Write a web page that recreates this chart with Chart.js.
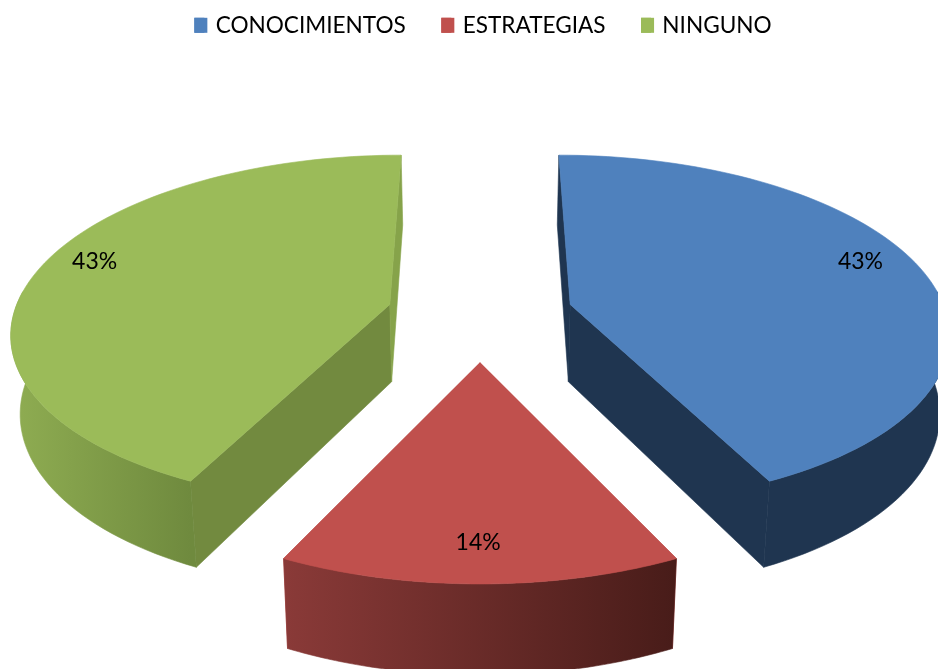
<!DOCTYPE html>
<html>
<head>
<meta charset="utf-8">
<title>Pie</title>
<script src="https://cdn.jsdelivr.net/npm/chart.js@4"></script>
<style>
    html, body { margin: 0; padding: 0; background: #fff; overflow: hidden; }
    canvas { display: block; }
</style>
</head>
<body>
<canvas id="pie" width="938" height="669"></canvas>
<script>
const categories = ["CONOCIMIENTOS", "ESTRATEGIAS", "NINGUNO"];
const percents = [42.9, 14.3, 42.9];

const topColors = ["#4f81bd", "#c0504d", "#9bbb59"];
// outer wall, left to right
const wallColors = [["#1f3550", "#1f3550"], ["#8a3a38", "#481c19"], ["#8fad52", "#6f8a3e"]];
// cut faces: start edge, end edge (the red ones stay hidden under its top)
const cutColors = [["#1f3550", "#1f3550"], ["#c0504d", "#c0504d"], ["#728a3f", "#86a34a"]];
// explode distance of each slice
const explode = [68, 74, 68];
// percent label place: turn around the slice (radians), share of the radius
const labelTurn = [-0.085, 0.005, 0.08];
const labelReach = [0.857, 0.838, 0.87];

// fake 3D view of the pie plane
const view = {
    planeRadius: 376, centerX: 480, vanishY: -886, focal: 1200, distance: 2600,
    depthBase: 62, depthSlope: 0.05, inset: 0.02
};

function projectTop(x, y) {
    const t = 1 / (1 - y / view.distance);
    return { x: view.centerX + x * t, y: view.vanishY + view.focal * t };
}

function dropDown(p) {
    return {
        x: view.centerX + (p.x - view.centerX) * (1 - view.inset),
        y: p.y + view.depthBase + view.depthSlope * p.y
    };
}

function fillPath(ctx, points, style) {
    ctx.beginPath();
    points.forEach((p, i) => i ? ctx.lineTo(p.x, p.y) : ctx.moveTo(p.x, p.y));
    ctx.closePath();
    ctx.fillStyle = style;
    ctx.fill();
    // closes the hairline seams between faces
    ctx.strokeStyle = style;
    ctx.lineWidth = 0.6;
    ctx.stroke();
}

const tiltedPie = {
    id: "tiltedPie",
    // the arcs keep their angles from the pie controller, only the painting is ours
    beforeDatasetsDraw(chart) {
        const ctx = chart.ctx;
        chart.getDatasetMeta(0).data.forEach((arc, i) => {
            const scale = view.planeRadius / arc.outerRadius;
            const mid = (arc.startAngle + arc.endAngle) / 2;
            const shift = arc.options.offset * scale;
            const apexX = shift * Math.cos(mid);
            const apexY = shift * Math.sin(mid);
            const onRim = (a, r) => projectTop(apexX + r * Math.cos(a), apexY + r * Math.sin(a));

            const apex = projectTop(apexX, apexY);
            const rim = [];
            const angles = [];
            for (let k = 0; k <= 90; k++) {
                const a = arc.startAngle + (arc.endAngle - arc.startAngle) * k / 90;
                angles.push(a);
                rim.push(onRim(a, view.planeRadius));
            }

            const first = rim[0];
            const last = rim[rim.length - 1];
            fillPath(ctx, [apex, dropDown(apex), dropDown(first), first], cutColors[i][0]);
            fillPath(ctx, [apex, dropDown(apex), dropDown(last), last], cutColors[i][1]);

            const front = rim.filter((p, k) => Math.sin(angles[k]) > -0.1);
            const xs = front.map(p => p.x);
            const grad = ctx.createLinearGradient(Math.min(...xs), 0, Math.max(...xs), 0);
            grad.addColorStop(0, wallColors[i][0]);
            grad.addColorStop(1, wallColors[i][1]);
            fillPath(ctx, front.concat(front.map(dropDown).reverse()), grad);

            fillPath(ctx, [apex].concat(rim), topColors[i]);
        });
        return false;
    },
    // afterDatasetsDraw never fires once beforeDatasetsDraw returned false
    afterDraw(chart) {
        const ctx = chart.ctx;
        // legend boxes are a bit wider than the gap Chart.js leaves before the text
        chart.legend.legendHitBoxes.forEach((b, i) => {
            ctx.fillStyle = topColors[i];
            ctx.fillRect(b.left, b.top + (b.height - 15) / 2, 13, 15);
        });

        ctx.fillStyle = "#000";
        ctx.font = "23px Lato";
        ctx.textAlign = "center";
        ctx.textBaseline = "middle";
        chart.getDatasetMeta(0).data.forEach((arc, i) => {
            const scale = view.planeRadius / arc.outerRadius;
            const mid = (arc.startAngle + arc.endAngle) / 2;
            const shift = arc.options.offset * scale;
            const a = mid + labelTurn[i];
            const r = view.planeRadius * labelReach[i];
            const p = projectTop(shift * Math.cos(mid) + r * Math.cos(a), shift * Math.sin(mid) + r * Math.sin(a));
            ctx.fillText(Math.round(percents[i]) + "%", p.x, p.y);
        });
    }
};

new Chart(document.getElementById("pie"), {
    type: "pie",
    data: {
        labels: categories,
        datasets: [{
            data: percents,
            backgroundColor: topColors,
            borderWidth: 0,
            offset: explode
        }]
    },
    options: {
        responsive: false,
        animation: false,
        layout: { padding: { top: -21.5, left: 28 } },
        plugins: {
            tooltip: { enabled: false },
            legend: {
                position: "top",
                labels: {
                    color: "#000",
                    font: { family: "Lato", size: 22.6 },
                    boxWidth: 10,
                    boxHeight: 15,
                    padding: 35.5
                }
            }
        }
    },
    plugins: [tiltedPie]
});
</script>
</body>
</html>
